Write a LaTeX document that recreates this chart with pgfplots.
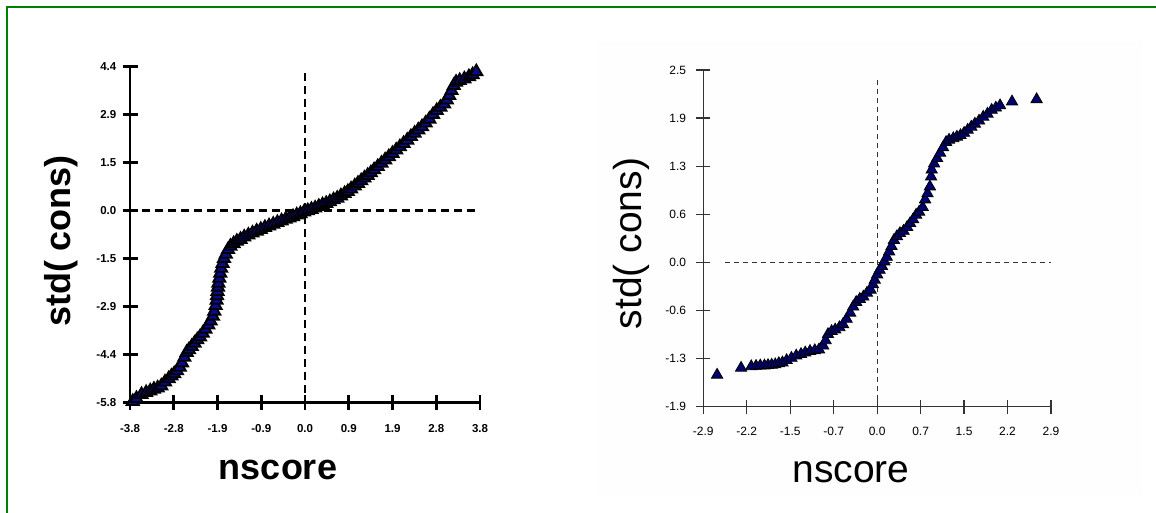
\documentclass[border=0pt]{standalone}
\usepackage{pgfplots}
\pgfplotsset{compat=1.18}
\usepackage{fontspec}
\setmainfont{Liberation Sans}
\definecolor{grn}{RGB}{0,128,0}
\definecolor{navyb}{RGB}{10,10,140}
\definecolor{navyc}{RGB}{0,0,110}
\pgfplotstableread{
x y
-3.74 -5.79
-3.66 -5.70
-3.55 -5.58
-3.45 -5.52
-3.36 -5.47
-3.28 -5.42
-3.20 -5.38
-3.12 -5.32
-3.04 -5.20
-2.96 -5.10
-2.90 -5.02
-2.84 -4.95
-2.78 -4.86
-2.72 -4.75
-2.67 -4.62
-2.62 -4.45
-2.57 -4.30
-2.52 -4.22
-2.46 -4.12
-2.40 -4.02
-2.34 -3.92
-2.28 -3.83
-2.22 -3.72
-2.16 -3.60
-2.10 -3.47
-2.05 -3.35
-2.00 -3.20
-1.97 -3.05
-1.94 -2.88
-1.92 -2.72
-1.91 -2.58
-1.90 -2.45
-1.89 -2.32
-1.88 -2.20
-1.86 -2.05
-1.84 -1.90
-1.82 -1.75
-1.79 -1.60
-1.76 -1.45
-1.72 -1.32
-1.67 -1.18
-1.62 -1.08
-1.55 -1.00
-1.48 -0.93
-1.40 -0.87
-1.32 -0.80
-1.23 -0.74
-1.14 -0.68
-1.05 -0.62
-0.96 -0.57
-0.87 -0.51
-0.78 -0.46
-0.69 -0.41
-0.60 -0.36
-0.51 -0.31
-0.42 -0.26
-0.34 -0.22
-0.26 -0.18
-0.18 -0.13
-0.10 -0.09
-0.02 -0.04
0.06 0.00
0.14 0.04
0.22 0.08
0.30 0.13
0.38 0.18
0.46 0.22
0.54 0.27
0.62 0.33
0.70 0.38
0.78 0.45
0.86 0.52
0.93 0.58
1.00 0.66
1.08 0.75
1.15 0.83
1.22 0.91
1.29 0.99
1.36 1.07
1.43 1.15
1.50 1.24
1.58 1.34
1.66 1.44
1.74 1.54
1.82 1.64
1.90 1.74
1.98 1.84
2.06 1.94
2.14 2.04
2.22 2.14
2.30 2.25
2.38 2.35
2.46 2.45
2.54 2.55
2.62 2.66
2.70 2.78
2.78 2.92
2.86 3.04
2.94 3.14
3.02 3.24
3.08 3.36
3.13 3.50
3.18 3.65
3.23 3.80
3.28 3.90
3.36 3.95
3.46 4.00
3.56 4.07
3.64 4.13
3.72 4.22
}\leftdata
\pgfplotstableread{
x y
-2.67 -1.47
-2.27 -1.38
-2.10 -1.36
-2.02 -1.355
-1.95 -1.35
-1.88 -1.35
-1.82 -1.345
-1.76 -1.34
-1.70 -1.335
-1.64 -1.32
-1.58 -1.31
-1.51 -1.28
-1.43 -1.25
-1.35 -1.22
-1.27 -1.20
-1.20 -1.18
-1.12 -1.16
-1.04 -1.15
-0.97 -1.14
-0.90 -1.09
-0.86 -1.02
-0.82 -0.94
-0.76 -0.90
-0.70 -0.88
-0.63 -0.85
-0.57 -0.81
-0.51 -0.74
-0.45 -0.66
-0.40 -0.58
-0.35 -0.52
-0.29 -0.48
-0.23 -0.45
-0.17 -0.40
-0.11 -0.36
-0.07 -0.29
-0.04 -0.23
0.00 -0.16
0.04 -0.10
0.08 -0.05
0.12 0.01
0.16 0.07
0.20 0.14
0.24 0.21
0.28 0.29
0.33 0.34
0.38 0.38
0.44 0.41
0.50 0.46
0.55 0.51
0.60 0.56
0.65 0.62
0.70 0.66
0.76 0.72
0.80 0.82
0.84 0.90
0.88 0.99
0.90 1.12
0.91 1.21
0.95 1.29
1.00 1.36
1.05 1.43
1.10 1.50
1.15 1.57
1.20 1.60
1.27 1.62
1.33 1.64
1.39 1.66
1.45 1.69
1.51 1.73
1.57 1.77
1.63 1.81
1.70 1.85
1.77 1.90
1.84 1.94
1.91 1.99
1.98 2.02
2.05 2.05
2.25 2.10
2.66 2.13
}\rightdata
\begin{document}
\begin{tikzpicture}
\useasboundingbox (0pt,0pt) rectangle (1156pt,513pt);
\fill[black!0.4] (598pt,471pt) rectangle (1142pt,18pt);
\draw[grn, line width=2.2pt] (7pt,0pt) -- (7pt,506pt) -- (1156pt,506pt);
% ---------------- left chart
\begin{axis}[at={(130pt,110.3pt)}, anchor=south west, scale only axis,
  width=350pt, height=336pt, clip=false,
  xmin=-3.8, xmax=3.8, ymin=-5.828, ymax=4.371,
  axis x line=bottom, axis y line=left,
  axis line style={-, line width=2.8pt, black},
  xtick={-3.8,-2.85,-1.9,-0.95,0,0.95,1.9,2.85,3.8},
  xticklabels={-3.8,-2.8,-1.9,-0.9,0.0,0.9,1.9,2.8,3.8},
  ytick={-5.828,-4.371,-2.914,-1.457,0,1.457,2.914,4.371},
  yticklabels={-5.8,-4.4,-2.9,-1.5,0.0,1.5,2.9,4.4},
  tick align=center, major tick length=15pt,
  tick style={line width=2.8pt, black},
  xticklabel style={anchor=base, inner sep=0pt, yshift=-22pt, font=\fontsize{11.5}{11.5}\selectfont\bfseries},
  yticklabel style={anchor=east, inner sep=0pt, xshift=-6pt, font=\fontsize{11.5}{11.5}\selectfont\bfseries},
]
\draw[black, line width=2.5pt, dash pattern=on 8pt off 5pt] (axis cs:0,-5.53) -- (axis cs:0,4.18);
\draw[black, line width=2.5pt, dash pattern=on 8pt off 5pt] (axis cs:-3.53,0) -- (axis cs:3.8,0);
\addplot[only marks, mark=triangle*, mark size=7pt,
  mark options={fill=navyb, draw=black, line width=1.8pt}] table[x=x,y=y] {\leftdata};
\end{axis}
\node[anchor=base, font=\fontsize{36}{36}\selectfont\bfseries] at (278pt,33pt) {nscore};
\node[anchor=base, rotate=90, font=\fontsize{36}{36}\selectfont\bfseries] at (70.4pt,272pt) {std( cons)};
% ---------------- right chart
\begin{axis}[at={(703.3pt,106.3pt)}, anchor=south west, scale only axis,
  width=347.7pt, height=336.7pt, clip=false,
  xmin=-2.9, xmax=2.9, ymin=-1.886, ymax=2.514,
  axis x line=bottom, axis y line=left,
  axis line style={-, line width=1.3pt, black!80},
  xtick={-2.9,-2.175,-1.45,-0.725,0,0.725,1.45,2.175,2.9},
  xticklabels={-2.9,-2.2,-1.5,-0.7,0.0,0.7,1.5,2.2,2.9},
  ytick={-1.886,-1.257,-0.629,0,0.629,1.257,1.886,2.514},
  yticklabels={-1.9,-1.3,-0.6,0.0,0.6,1.3,1.9,2.5},
  tick align=center, major tick length=14pt,
  tick style={line width=1.3pt, black!80},
  xticklabel style={anchor=base, inner sep=0pt, yshift=-22.3pt, font=\fontsize{12}{12}\selectfont},
  yticklabel style={anchor=east, inner sep=0pt, xshift=-10pt, font=\fontsize{12}{12}\selectfont},
]
\draw[black!80, line width=1.2pt, dash pattern=on 5pt off 4pt] (axis cs:0,-1.80) -- (axis cs:0,2.43);
\draw[black!80, line width=1.2pt, dash pattern=on 5pt off 4pt] (axis cs:-2.53,0) -- (axis cs:2.9,0);
\addplot[only marks, mark=triangle*, mark size=6.5pt,
  mark options={fill=navyc, draw=black, line width=0.8pt}] table[x=x,y=y] {\rightdata};
\end{axis}
\node[anchor=base, font=\fontsize{39}{39}\selectfont] at (851pt,30pt) {nscore};
\node[anchor=base, rotate=90, font=\fontsize{39}{39}\selectfont] at (641.6pt,269.5pt) {std( cons)};
\end{tikzpicture}
\end{document}
